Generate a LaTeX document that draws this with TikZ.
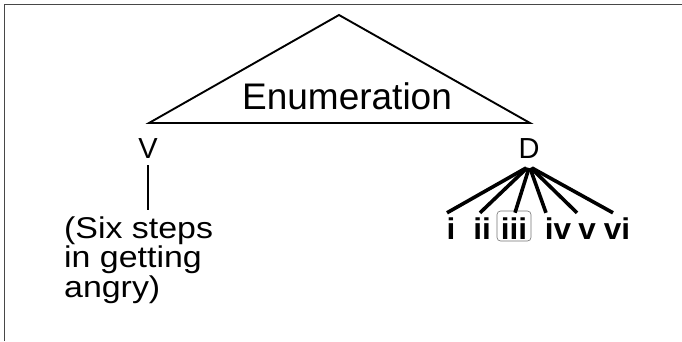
\documentclass[tikz,border=0pt]{standalone}
\usepackage{graphicx}
\usepackage{fontspec}
\setmainfont{Liberation Sans}
\newcommand\mywiden[2]{\scalebox{#1}[1]{#2}}
\begin{document}
\begin{tikzpicture}[x=1pt,y=-1pt,
  lbl/.style={inner sep=0pt, anchor=base, font=\fontsize{29}{30}\selectfont},
  kid/.style={inner sep=0pt, anchor=base, text height=20pt, text depth=0pt, font=\fontsize{30}{31}\bfseries\selectfont},
  tri/.style={line width=1.9pt, line join=miter},
  branch/.style={line width=3.6pt},
  stem/.style={line width=2pt},
  frame/.style={draw=black!72, line width=1pt}
]
\useasboundingbox (0,0) rectangle (682,341);
\draw[frame] (4.5,341) -- (4.5,4.5) -- (682,4.5);
% triangle
\coordinate (apex) at (339,15);
\coordinate (bl) at (149,123);
\coordinate (br) at (530,123);
\draw[tri] (bl) -- (apex) -- (br) -- cycle;
\node[lbl, font=\fontsize{37}{38}\selectfont] (enum) at (347,109) {Enumeration};
\node[lbl] (V) at (148,158) {V};
\node[lbl] (D) at (529,158) {D};
% left text
\node[inner sep=0pt, anchor=base west, align=left, font=\fontsize{30}{29.5}\selectfont] (six) at (64,297)
  {\mywiden{1.13}{(Six steps}\\\mywiden{1.13}{in getting}\\\mywiden{1.13}{angry)}};
\coordinate (stemend) at (V.base |- six.north);
\draw[stem] ([yshift=-7pt]V.base) -- ([yshift=6pt]stemend);
% children
\node[kid] (c1) at (451,239) {\mywiden{1.05}{i}};
\node[kid] (c2) at (482,239) {\mywiden{1.05}{ii}};
\node[kid, text height=26pt, text depth=0pt, inner ysep=2pt, minimum width=34pt, draw=black!55, line width=0.6pt, rounded corners=3.5pt] (c3) at (514,239) {\mywiden{1.05}{iii}};
\node[kid] (c4) at (558,239) {\mywiden{1.05}{iv}};
\node[kid] (c5) at (587,239) {\mywiden{1.05}{v}};
\node[kid] (c6) at (617,239) {\mywiden{1.05}{vi}};
\coordinate (Dfoot) at ([yshift=-10pt]D.base);
\draw[branch] ([xshift=-3pt]Dfoot) -- ([xshift=-4pt,yshift=6pt]c1.north);
\draw[branch] ([xshift=-2pt]Dfoot) -- ([xshift=-2pt,yshift=6pt]c2.north);
\draw[branch] (Dfoot) -- ([xshift=1pt,yshift=-2pt]c3.north);
\draw[branch] ([xshift=1pt]Dfoot) -- ([xshift=-12pt,yshift=6pt]c4.north);
\draw[branch] ([xshift=2pt]Dfoot) -- ([xshift=-10pt,yshift=6pt]c5.north);
\draw[branch] ([xshift=3pt]Dfoot) -- ([xshift=-4pt,yshift=6pt]c6.north);
\end{tikzpicture}
\end{document}
